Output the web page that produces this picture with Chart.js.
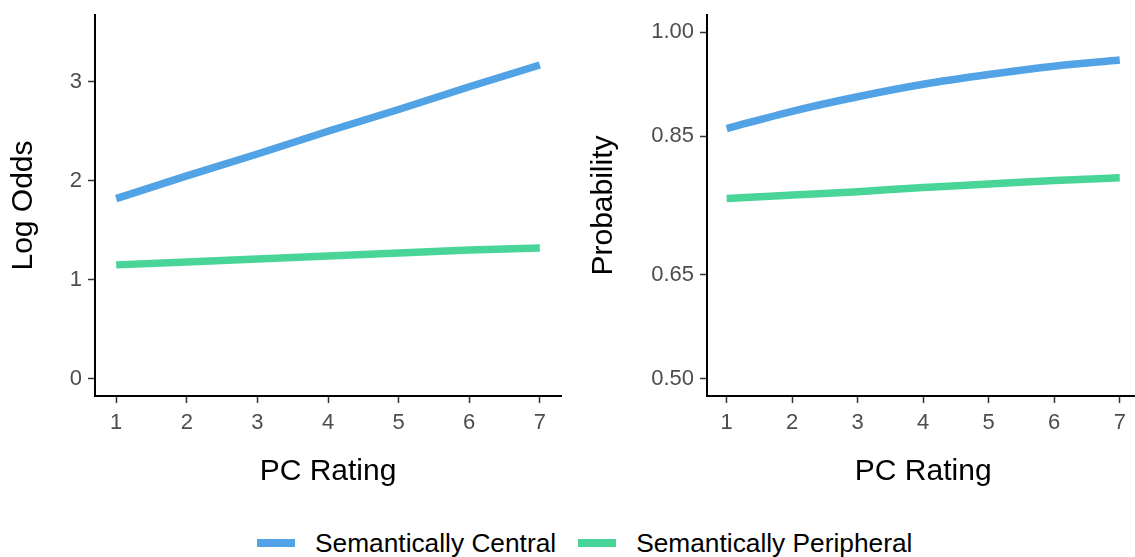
<!DOCTYPE html>
<html>
<head>
<meta charset="utf-8">
<script src="https://cdn.jsdelivr.net/npm/chart.js@4"></script>
<style>
  html, body { margin: 0; padding: 0; background: #fff; overflow: hidden; width: 1135px; height: 557px; }
  #wrap { position: relative; width: 1135px; height: 557px; overflow: hidden; }
  canvas { position: absolute; top: 0; }
  #left { left: 0; }
  #right { left: 580px; }
  #legend {
    position: absolute; left: 257px; top: 530px; display: flex; align-items: center;
    font-family: "Liberation Sans", Arial, sans-serif; font-size: 26.3px; line-height: 26px; color: #000;
    white-space: nowrap;
  }
  .key { width: 38px; height: 8px; margin-right: 20px; }
  .item { display: flex; align-items: center; margin-right: 22px; }
</style>
</head>
<body>
<div id="wrap">
  <canvas id="left" width="580" height="505"></canvas>
  <canvas id="right" width="570" height="505"></canvas>
  <div id="legend"></div>
</div>
<script>
// PC rating levels on the x axis
const ratings = [1, 2, 3, 4, 5, 6, 7];

// Log odds by rating
const logOddsCentral    = [1.82, 2.05, 2.27, 2.50, 2.72, 2.95, 3.17];
const logOddsPeripheral = [1.15, 1.18, 1.21, 1.24, 1.27, 1.30, 1.32];

// Probability by rating
const probCentral    = [0.861, 0.886, 0.907, 0.925, 0.939, 0.951, 0.960];
const probPeripheral = [0.760, 0.765, 0.770, 0.776, 0.781, 0.786, 0.790];

// Tick labels
const xTicks = [1, 2, 3, 4, 5, 6, 7];
const logOddsTicks = [0, 1, 2, 3];
const probTicks = [0.50, 0.65, 0.85, 1.00];

const seriesNames = ['Semantically Central', 'Semantically Peripheral'];
const seriesColors = ['#51A3E6', '#48D597'];

const FONT = '"Liberation Sans", Arial, sans-serif';
const TICK_COLOR = '#4D4D4D';

function pairs(ys) { return ratings.map((x, i) => ({ x: x, y: ys[i] })); }

function dataset(i, ys, smooth) {
  return {
    label: seriesNames[i],
    data: pairs(ys),
    borderColor: seriesColors[i],
    backgroundColor: seriesColors[i],
    borderWidth: 7.5,
    borderCapStyle: 'butt',
    borderJoinStyle: 'round',
    pointRadius: 0,
    pointHoverRadius: 0,
    fill: false,
    cubicInterpolationMode: smooth ? 'monotone' : 'default',
    tension: 0
  };
}

function fixTicks(values) {
  return function (scale) { scale.ticks = values.map(v => ({ value: v })); };
}

function fixSize(prop, size) {
  return function (scale) {
    scale[prop] = size;
    scale.paddingTop = 0; scale.paddingBottom = 0;
    scale.paddingLeft = 0; scale.paddingRight = 0;
  };
}

function makeChart(canvasId, sets, yMin, yMax, yTickValues, yTitle, yFmt, yAxisWidth, padRight) {
  return new Chart(document.getElementById(canvasId), {
    type: 'line',
    data: { datasets: sets },
    options: {
      responsive: false,
      animation: false,
      devicePixelRatio: 1,
      layout: { padding: { left: 0, top: 15, right: padRight, bottom: 14 } },
      plugins: { legend: { display: false }, tooltip: { enabled: false } },
      events: [],
      scales: {
        x: {
          type: 'linear',
          min: 0.7, max: 7.3,
          afterBuildTicks: fixTicks(xTicks),
          afterFit: fixSize('height', 95),
          grid: { display: true, drawOnChartArea: false, drawTicks: true, tickLength: 7, tickWidth: 1.5, tickColor: '#333333' },
          border: { display: true, color: '#000000', width: 2 },
          ticks: { color: TICK_COLOR, padding: 7, maxRotation: 0, font: { family: FONT, size: 22 }, callback: v => String(v) },
          title: { display: true, text: 'PC Rating', color: '#000000', padding: { top: 0, bottom: 1.3 }, font: { family: FONT, size: 30, lineHeight: 1.2 } }
        },
        y: {
          type: 'linear',
          min: yMin, max: yMax,
          afterBuildTicks: fixTicks(yTickValues),
          afterFit: fixSize('width', yAxisWidth),
          grid: { display: true, drawOnChartArea: false, drawTicks: true, tickLength: 7, tickWidth: 1.5, tickColor: '#333333' },
          border: { display: true, color: '#000000', width: 2 },
          ticks: { color: TICK_COLOR, padding: 6, font: { family: FONT, size: 22 }, callback: yFmt },
          title: { display: true, text: yTitle, color: '#000000', padding: { top: 6, bottom: 0 }, font: { family: FONT, size: 30, lineHeight: 1.2 } }
        }
      }
    }
  });
}

makeChart('left',
  [dataset(0, logOddsCentral, false), dataset(1, logOddsPeripheral, false)],
  -0.175, 3.675, logOddsTicks, 'Log Odds', v => String(v), 95, 19);

makeChart('right',
  [dataset(0, probCentral, true), dataset(1, probPeripheral, true)],
  0.475, 1.025, probTicks, 'Probability', v => Number(v).toFixed(2), 127, 10.6);

// Shared legend below both panels
const legend = document.getElementById('legend');
seriesNames.forEach((name, i) => {
  const item = document.createElement('div');
  item.className = 'item';
  const key = document.createElement('div');
  key.className = 'key';
  key.style.background = seriesColors[i];
  const label = document.createElement('span');
  label.textContent = name;
  item.appendChild(key);
  item.appendChild(label);
  legend.appendChild(item);
});
</script>
</body>
</html>
